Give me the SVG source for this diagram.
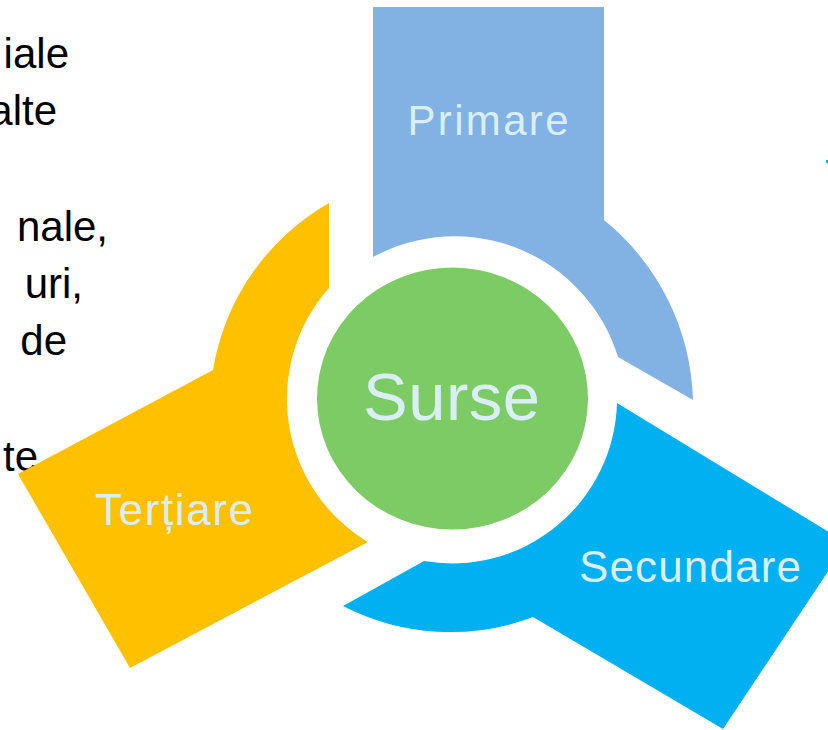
<svg xmlns="http://www.w3.org/2000/svg" width="828" height="730" viewBox="0 0 828 730">
<style>
.lbl{font-family:"Liberation Sans",Arial,sans-serif;fill:#DAEEF6;text-anchor:middle}
.side{font-family:"Liberation Sans",Arial,sans-serif;font-size:42px;fill:#000;text-anchor:end}
</style>
<rect width="828" height="730" fill="#fff"/>
<g id="side-text">
<text class="side" x="69" y="68">iale</text>
<text class="side" x="57" y="125">alte</text>
<text class="side" x="108" y="241">nale,</text>
<text class="side" x="83" y="298">uri,</text>
<text class="side" x="67" y="355">de</text>
<text class="side" x="38" y="471">te</text>
<rect x="826" y="160" width="2" height="3" fill="#00B0F0"/>
</g>
<g id="connectors"></g>
<g id="primare">
<path d="M373,7 L604,7 L604,220 A240,240 0 0 1 693,400 L618,357 A171,171 0 0 0 373,257 Z" fill="#82B1E4"/>
<text class="lbl" x="488" y="135" font-size="42" textLength="161" lengthAdjust="spacing">Primare</text>
</g>
<g id="secundare">
<path d="M617,403 A165,165 0 0 1 424,561 L343,606 A234,234 0 0 0 533,617 L723,729 L847,543 Z" fill="#00B0F0"/>
<text class="lbl" x="690" y="582" font-size="44" textLength="222" lengthAdjust="spacing">Secundare</text>
</g>
<g id="tertiare">
<path d="M329,203 L329,288 A167,167 0 0 0 368,542 L130,668 L18,474 L213,370 A236,236 0 0 1 329,203 Z" fill="#FFC000"/>
<text class="lbl" x="174" y="525" font-size="44" textLength="158" lengthAdjust="spacing">Terțiare</text>
</g>
<g id="surse">
<ellipse cx="452.5" cy="398.5" rx="135.5" ry="131" fill="#7DCB64"/>
<text class="lbl" x="451.5" y="420" font-size="67" textLength="177" lengthAdjust="spacing">Surse</text>
</g>
</svg>
